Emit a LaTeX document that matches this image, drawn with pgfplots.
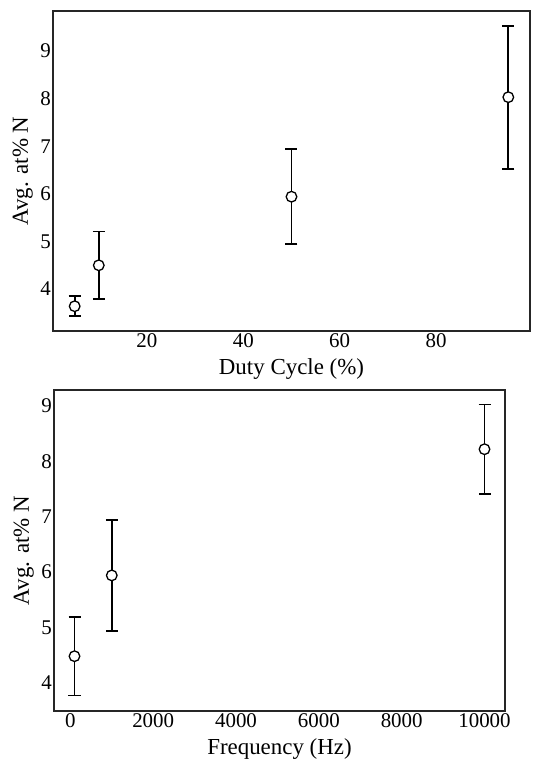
\documentclass[border=0pt]{standalone}
\usepackage{fontspec}
\setmainfont{Liberation Serif}
\usepackage{pgfplots}
\pgfplotsset{compat=1.18}

\pgfplotsset{
  panel/.style={
    scale only axis,
    axis line style={black!85},
    major tick length=0pt,
    tick label style={font=\fontsize{21}{21}\selectfont},
    /pgf/number format/assume math mode=true,
    xticklabel style={inner sep=2bp},
    yticklabel style={inner sep=2bp},
    every axis x label/.style={at={(rel axis cs:0.5,0)}, anchor=north,
      inner sep=0pt, yshift=-27bp, font=\fontsize{23}{23}\selectfont},
    % shift is taken in the rotated frame, so yshift moves it to the left
    every axis y label/.style={at={(rel axis cs:0,0.5)}, anchor=south,
      rotate=90, inner sep=0pt, yshift=20bp, font=\fontsize{23}{23}\selectfont},
    ylabel={Avg. at\% N},
    ytick={4,5,6,7,8,9},
  },
  bars/.style={
    only marks, black, mark=*,
    mark options={fill=white, draw=black, line width=1.3bp},
    mark size=5.3bp,
    error bars/.cd, y dir=both, y explicit,
    error bar style={line width=#1, black},
    error mark options={rotate=90, mark size=6bp, line width=#1, black},
  },
}

\begin{document}
\begin{tikzpicture}
\useasboundingbox (0,0) rectangle (533bp,761bp);

% duty cycle
\begin{axis}[
  panel,
  at={(53bp,430bp)}, anchor=south west,
  width=477bp, height=320bp,
  axis line style={line width=1.6bp},
  xmin=0.5, xmax=99.5,
  ymin=3.12, ymax=9.84,
  xtick={20,40,60,80},
  xlabel={Duty Cycle (\%)},
]
\addplot[bars=1.8bp] coordinates {
  (5,3.64)  +- (0,0.21)
  (10,4.50) +- (0,0.71)
  (50,5.94) +- (0,1.00)
  (95,8.03) +- (0,1.50)
};
\end{axis}

% frequency
\begin{axis}[
  panel,
  at={(54bp,50bp)}, anchor=south west,
  width=451bp, height=321bp,
  axis line style={line width=1.3bp},
  xmin=-395, xmax=10495,
  ymin=3.49, ymax=9.29,
  xtick={0,2000,4000,6000,8000,10000},
  scaled x ticks=false,
  /pgf/number format/set thousands separator={},
  xlabel={Frequency (Hz)},
]
\addplot[bars=1.5bp] coordinates {
  (100,4.48)   +- (0,0.71)
  (1000,5.94)  +- (0,1.00)
  (10000,8.22) +- (0,0.81)
};
\end{axis}
\end{tikzpicture}
\end{document}
